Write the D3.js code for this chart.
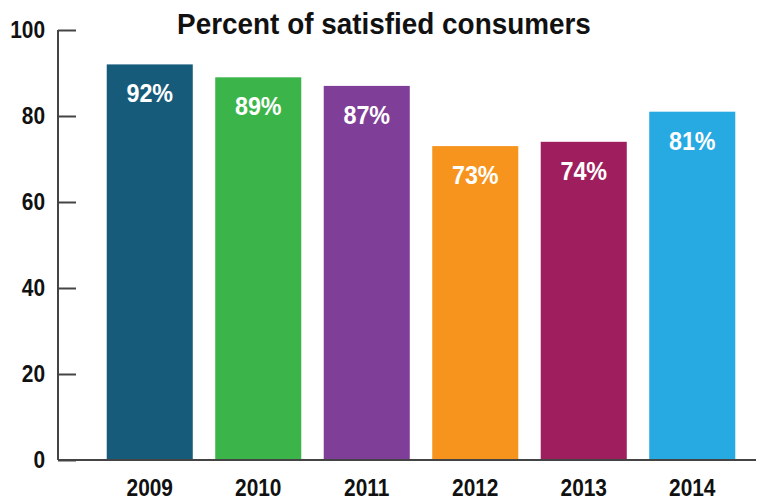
<!DOCTYPE html>
<html>
<head>
<meta charset="utf-8">
<script src="https://cdn.jsdelivr.net/npm/d3@7"></script>
<style>
  html, body { margin: 0; padding: 0; background: #fff; }
  svg { display: block; }
  text { font-family: "Liberation Sans", Arial, sans-serif; font-weight: bold; }
</style>
</head>
<body>
<svg id="chart" width="757" height="502"></svg>
<script>
// Survey results by year
const years = ["2009", "2010", "2011", "2012", "2013", "2014"];
const satisfied = [92, 89, 87, 73, 74, 81];
const barColors = ["#175b7b", "#3bb54a", "#7f3f98", "#f7941d", "#9f1f5e", "#27aae1"];
const yTicks = [0, 20, 40, 60, 80, 100];
const title = "Percent of satisfied consumers";

// Horizontal squeeze that gives the bold sans a condensed look
const condense = 0.87;

const svg = d3.select("#chart");

const x = d3.scaleBand()
  .domain(years)
  .range([95.5, 746.5])
  .paddingInner(0.207)
  .paddingOuter(0.1035);

const y = d3.scaleLinear()
  .domain([0, 100])
  .range([460, 30]);

// Bars
svg.append("g")
  .selectAll("rect")
  .data(years)
  .join("rect")
  .attr("x", d => x(d))
  .attr("y", (d, i) => y(satisfied[i]))
  .attr("width", x.bandwidth())
  .attr("height", (d, i) => y(0) - y(satisfied[i]))
  .attr("fill", (d, i) => barColors[i]);

// Value labels inside the bars
svg.append("g")
  .selectAll("g")
  .data(years)
  .join("g")
  .attr("transform", (d, i) => `translate(${x(d) + x.bandwidth() / 2},${y(satisfied[i]) + 38})`)
  .append("text")
  .attr("transform", "scale(0.88,1)")
  .attr("text-anchor", "middle")
  .attr("fill", "#fff")
  .attr("font-size", 26.5)
  .text((d, i) => satisfied[i] + "%");

// Y axis: ticks point inward
const yAxis = d3.axisLeft(y)
  .tickValues(yTicks)
  .tickSize(-18);

const gy = svg.append("g")
  .attr("transform", "translate(58,0)")
  .call(yAxis);
gy.select(".domain").attr("stroke", "#444").attr("stroke-width", 2)
  .attr("d", `M0,${y(100)}V${y(0)}`);
gy.selectAll(".tick line").attr("stroke", "#444").attr("stroke-width", 2);
gy.selectAll(".tick text")
  .attr("x", -13 / condense)
  .attr("transform", `scale(${condense},1)`)
  .attr("fill", "#111")
  .attr("font-size", 24)
  .attr("font-family", "'Liberation Sans', Arial, sans-serif")
  .attr("font-weight", "bold");

// Baseline across the plot
svg.append("line")
  .attr("x1", 58).attr("x2", 756)
  .attr("y1", y(0)).attr("y2", y(0))
  .attr("stroke", "#444").attr("stroke-width", 2);

// X axis labels
const xAxis = d3.axisBottom(x).tickSize(0).tickPadding(19);
const gx = svg.append("g")
  .attr("transform", `translate(0,${y(0)})`)
  .call(xAxis);
gx.select(".domain").remove();
gx.selectAll(".tick text")
  .attr("transform", `scale(${condense},1)`)
  .attr("fill", "#111")
  .attr("font-size", 24)
  .attr("font-family", "'Liberation Sans', Arial, sans-serif")
  .attr("font-weight", "bold");

// Title
svg.append("g")
  .attr("transform", "translate(384,34)")
  .append("text")
  .attr("transform", "scale(0.93,1)")
  .attr("text-anchor", "middle")
  .attr("fill", "#111")
  .attr("font-size", 30)
  .text(title);
</script>
</body>
</html>
